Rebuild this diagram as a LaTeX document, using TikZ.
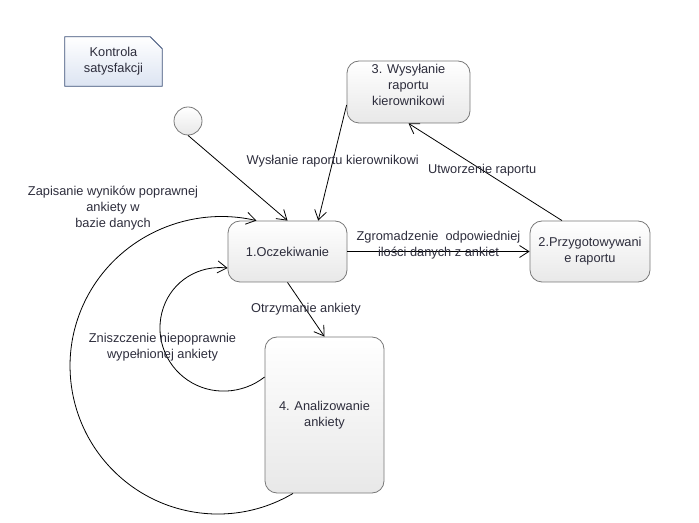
\documentclass[tikz,border=0pt]{standalone}
\usepackage{fontspec}
\setmainfont{Liberation Sans}
\usetikzlibrary{arrows.meta,backgrounds}

\definecolor{txtcol}{RGB}{45,45,60}
\definecolor{statebd}{RGB}{120,120,120}
\definecolor{notebd}{RGB}{60,80,120}
\definecolor{notefill}{RGB}{220,228,242}

\tikzset{
  state/.style={rectangle, rounded corners=9pt, draw=statebd, top color=white, bottom color=gray!18, line width=0.6pt, text=txtcol, align=center, inner sep=2pt},
  lbl/.style={text=txtcol, align=center, inner sep=1pt},
  trans/.style={line width=0.6pt, -{Straight Barb[length=7pt,width=9pt]}},
}

\begin{document}
\begin{tikzpicture}[x=0.75pt, y=-0.75pt, font=\fontsize{9.6}{12}\selectfont]
  \useasboundingbox (0,0) rectangle (699,523);

  % Note
  \node[lbl, minimum width=72.75pt, minimum height=36.75pt] (note) at (113.5,61.5) {Kontrola\\satysfakcji};
  \begin{scope}[on background layer]
    \shade[top color=white, bottom color=notefill, draw=notebd, line width=0.6pt] (note.south west) -- (note.north west) -- ([xshift=-9pt]note.north east) -- ([yshift=-9pt]note.north east) -- (note.south east) -- cycle;
  \end{scope}

  % States
  \node[state, minimum width=89.25pt, minimum height=45.75pt] (s1) at (287.5,251.5) {1.Oczekiwanie};
  \node[state, minimum width=90pt, minimum height=45.75pt] (s2) at (590,251.5) {2.Przygotowywani\\e raportu};
  \node[state, minimum width=92.25pt, minimum height=46.5pt, label={[lbl,yshift=5pt]center:{3. Wysyłanie\\raportu\\kierownikowi}}] (s3) at (408.5,92) {};
  \node[state, minimum width=89.25pt, minimum height=117pt] (s4) at (324.5,415) {4. Analizowanie\\ankiety};

  % Initial state
  \node[circle, draw=statebd, top color=white, bottom color=gray!18, line width=0.6pt, minimum size=21pt, inner sep=0pt] (init) at (188,121) {};

  % Transitions
  \draw[trans] (init.south) -- (s1.north);
  \draw[trans] ([yshift=-9.75pt]s3.west) -- node[lbl, pos=0.49] {Wysłanie raportu kierownikowi} ([xshift=23pt]s1.north);
  \draw[trans] ([xshift=-21pt]s2.north) -- node[lbl, pos=0.52] {Utworzenie raportu} (s3.south);
  \draw[trans] (s1.east) -- node[lbl, yshift=5pt] {Zgromadzenie~~odpowiedniej\\ilości danych z ankiet} (s2.west);
  \draw[trans] (s1.south) -- node[lbl] {Otrzymanie ankiety} (s4.north);

  % Loops back to 1
  \draw[trans] ([yshift=28.5pt]s4.west) .. controls (242.4,394.3) and (211.1,396.1) .. (187.6,380.1)
    .. controls (164.1,364.1) and (154.1,334.4) .. (163.4,307.5)
    .. controls (172.7,280.6) and (198.9,265) .. ([yshift=-12.4pt]s1.west);
  \node[lbl] (droplbl) at (162.5,347.5) {Zniszczenie niepoprawnie\\wypełnionej ankiety};

  \draw[trans] ([xshift=-23.6pt]s4.south) .. controls (235.4,527.6) and (161.9,518.6) .. (114.1,471.4)
    .. controls (66.3,424.2) and (56.2,350.7) .. (89.6,292.4)
    .. controls (123,234.1) and (191.4,205.6) .. ([xshift=-23.3pt]s1.north);
  \node[lbl] (savelbl) at (113,208.5) {Zapisanie wyników poprawnej\\ankiety w\\bazie danych};
\end{tikzpicture}
\end{document}
